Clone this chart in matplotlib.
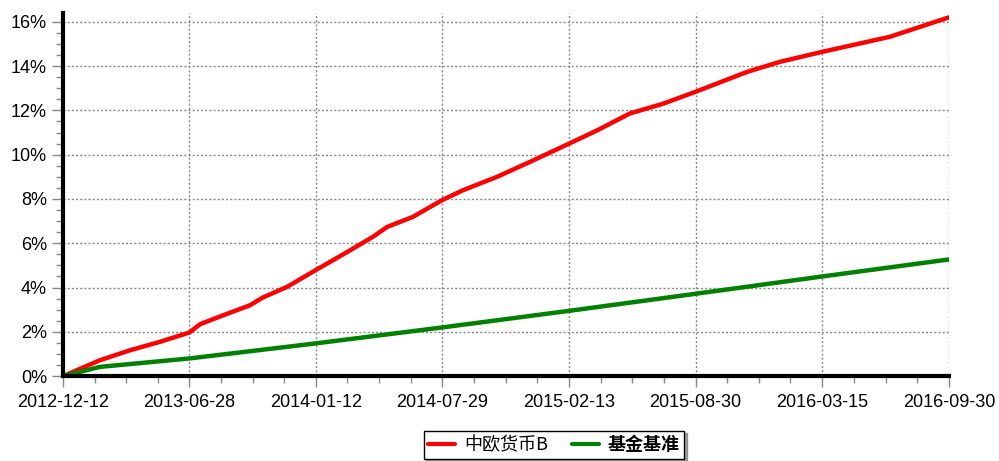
import matplotlib
matplotlib.use("Agg")
import matplotlib.pyplot as plt
import matplotlib.dates as mdates
from datetime import datetime

plt.rcParams['font.family'] = ['Liberation Sans', 'Noto Sans CJK SC', 'DejaVu Sans']

# cumulative return (%)
FUND_DATES = ["2012-12-12", "2013-02-08", "2013-03-27", "2013-05-13", "2013-06-28",
              "2013-07-15", "2013-08-20", "2013-10-01", "2013-10-21", "2013-11-28",
              "2014-01-12", "2014-03-02", "2014-04-12", "2014-05-04", "2014-06-13",
              "2014-07-29", "2014-08-31", "2014-10-23", "2014-12-14", "2015-02-13",
              "2015-03-29", "2015-05-19", "2015-07-10", "2015-08-30", "2015-11-19",
              "2016-01-09", "2016-03-15", "2016-06-29", "2016-09-30"]
FUND_VALUES = [0.0, 0.72, 1.17, 1.55, 1.97,
               2.35, 2.75, 3.2, 3.55, 4.03,
               4.79, 5.6, 6.3, 6.74, 7.19,
               7.95, 8.4, 9.0, 9.68, 10.5,
               11.1, 11.86, 12.3, 12.84, 13.74,
               14.19, 14.64, 15.32, 16.2]

BENCH_DATES = ["2012-12-12", "2013-02-08", "2013-06-28", "2014-01-12", "2014-07-29",
               "2015-02-13", "2015-08-30", "2016-03-15", "2016-09-30"]
BENCH_VALUES = [0.0, 0.42, 0.8, 1.48, 2.2, 2.95, 3.72, 4.5, 5.27]

TICK_DATES = ["2012-12-12", "2013-06-28", "2014-01-12", "2014-07-29",
              "2015-02-13", "2015-08-30", "2016-03-15", "2016-09-30"]
Y_TICKS = [0, 2, 4, 6, 8, 10, 12, 14, 16]

FUND_NAME = "中欧货币B"
BENCH_NAME = "基金基准"


def to_dates(lst):
    return [datetime.strptime(s, "%Y-%m-%d") for s in lst]


fig = plt.figure(figsize=(9.99, 4.61), dpi=100)
ax = fig.add_axes([0.063, 0.184, 0.887, 0.788])

fd = to_dates(FUND_DATES)
bd = to_dates(BENCH_DATES)
td = to_dates(TICK_DATES)

l1, = ax.plot(fd, FUND_VALUES, color='#ff0000', lw=3.2, solid_capstyle='round', zorder=3)
l2, = ax.plot(bd, BENCH_VALUES, color='#008000', lw=3.2, solid_capstyle='round', zorder=3)

ax.set_xlim(td[0], td[-1])
ax.set_ylim(0, 16.4)

ax.set_xticks(td)
ax.set_xticklabels(TICK_DATES)
tn = mdates.date2num(td)
minor_x = []
for a, b in zip(tn[:-1], tn[1:]):
    minor_x += [a + (b - a) * k / 4 for k in (1, 2, 3)]
ax.set_xticks(minor_x, minor=True)

ax.set_yticks(Y_TICKS)
ax.set_yticklabels(["%d%%" % v for v in Y_TICKS])
ax.set_yticks([v + d for v in Y_TICKS[:-1] for d in (0.5, 1.0, 1.5)], minor=True)

ax.grid(True, which='major', linestyle=(0, (1.5, 1.5)), color='#888888', lw=1)

for s in ('top', 'right'):
    ax.spines[s].set_visible(False)
for s in ('left', 'bottom'):
    ax.spines[s].set_linewidth(3)
    ax.spines[s].set_color('black')
    ax.spines[s].set_zorder(4)

ax.tick_params(axis='both', which='major', length=8, width=1, color='#888888',
               labelsize=13, labelcolor='black')
ax.tick_params(axis='x', which='major', pad=5)
ax.tick_params(axis='both', which='minor', length=5, width=1, color='#888888')

leg = fig.legend([l1, l2], [FUND_NAME, BENCH_NAME], loc='upper center',
                 bbox_to_anchor=(0.5545, 0.066), ncol=2, frameon=True,
                 fancybox=False, shadow=True, edgecolor='black',
                 prop={'family': ['Noto Sans CJK SC', 'DejaVu Sans'], 'size': 13},
                 handlelength=1.5, columnspacing=1.3, borderpad=0.25,
                 handletextpad=0.5, borderaxespad=0)
leg.get_frame().set_linewidth(1)
leg.get_texts()[0].set_fontweight('light')
leg.get_texts()[1].set_fontweight('bold')
for h in leg.legend_handles:
    h.set_linewidth(3)

fig.savefig("out.png", dpi=100)
